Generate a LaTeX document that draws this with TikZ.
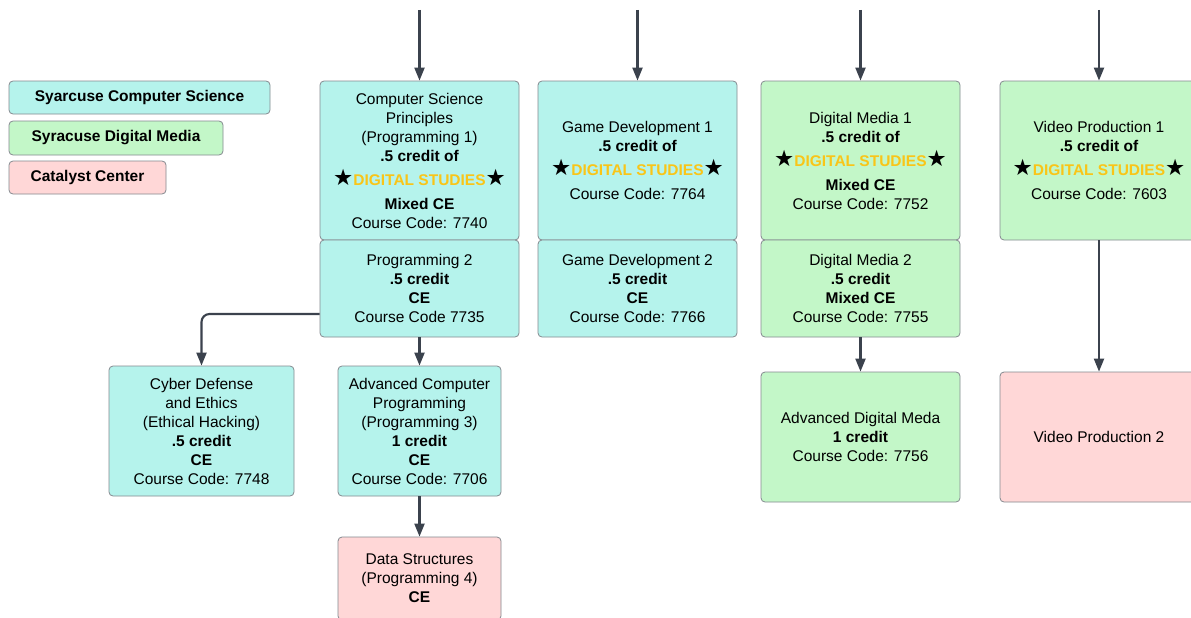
\documentclass[tikz,border=0pt]{standalone}
\usepackage{fontspec}
\setmainfont{Liberation Sans}
\newfontfamily\starfont{DejaVu Sans}
\usetikzlibrary{arrows.meta}
\definecolor{cscol}{HTML}{B5F3EC}
\definecolor{dmcol}{HTML}{C3F7C8}
\definecolor{cccol}{HTML}{FFD7D7}
\definecolor{dsy}{HTML}{F9C518}
\definecolor{bordcol}{HTML}{858A90}
\definecolor{arrcol}{HTML}{3B424D}
\newcommand{\mystar}{{\starfont\fontsize{22.5}{19}\selectfont ★}}
\newcommand{\dsline}{\mystar{\bfseries\color{dsy}DIGITAL STUDIES}\mystar}
\tikzset{
  basebox/.style={draw=bordcol, line width=0.8pt, rounded corners=4pt, align=center,
    font=\fontsize{15.5}{19}\selectfont, inner sep=0pt},
  csbox/.style={basebox, fill=cscol},
  dmbox/.style={basebox, fill=dmcol},
  ccbox/.style={basebox, fill=cccol},
  legbox/.style={basebox, font=\fontsize{15.5}{19}\selectfont\bfseries},
  arr/.style={draw=arrcol, line width=2.1pt, -{Triangle[length=13pt,width=10pt]}},
}
\begin{document}
\begin{tikzpicture}[x=1pt,y=-1pt]
\clip (0,0) rectangle (1191,618);
\fill[white] (0,0) rectangle (1191,618);
% legend
\node[legbox, fill=cscol, minimum width=261pt, minimum height=33pt] (l1) at (139.5,97.5) {Syarcuse Computer Science};
\node[legbox, fill=dmcol, minimum width=214pt, minimum height=34pt] (l2) at (116,138) {Syracuse Digital Media};
\node[legbox, fill=cccol, minimum width=157pt, minimum height=33pt] (l3) at (87.5,177.5) {Catalyst Center};
% top row
\node[csbox, minimum width=199pt, minimum height=159pt] (csp) at (419.5,160.5)
  {Computer Science\\Principles\\(Programming 1)\\\textbf{.5 credit of}\\[5pt]\dsline\\[5pt]\textbf{Mixed CE}\\Course Code: 7740};
\node[csbox, minimum width=199pt, minimum height=97pt] (p2) at (419.5,288.5)
  {Programming 2\\\textbf{.5 credit}\\\textbf{CE}\\Course Code 7735};
\node[csbox, minimum width=199pt, minimum height=159pt] (gd1) at (637.5,160.5)
  {Game Development 1\\\textbf{.5 credit of}\\[5pt]\dsline\\[5pt]Course Code: 7764};
\node[csbox, minimum width=199pt, minimum height=97pt] (gd2) at (637.5,288.5)
  {Game Development 2\\\textbf{.5 credit}\\\textbf{CE}\\Course Code: 7766};
\node[dmbox, minimum width=199pt, minimum height=159pt] (dm1) at (860.5,160.5)
  {Digital Media 1\\\textbf{.5 credit of}\\[5pt]\dsline\\[5pt]\textbf{Mixed CE}\\Course Code: 7752};
\node[dmbox, minimum width=199pt, minimum height=97pt] (dm2) at (860.5,288.5)
  {Digital Media 2\\\textbf{.5 credit}\\\textbf{Mixed CE}\\Course Code: 7755};
\node[dmbox, minimum width=198pt, minimum height=159pt] (vp1) at (1099,160.5)
  {Video Production 1\\\textbf{.5 credit of}\\[5pt]\dsline\\[5pt]Course Code: 7603};
% lower rows
\node[csbox, minimum width=185pt, minimum height=130pt] (cyb) at (201.5,431)
  {Cyber Defense\\and Ethics\\(Ethical Hacking)\\\textbf{.5 credit}\\\textbf{CE}\\Course Code: 7748};
\node[csbox, minimum width=163pt, minimum height=130pt] (acp) at (419.5,431)
  {Advanced Computer\\Programming\\(Programming 3)\\\textbf{1 credit}\\\textbf{CE}\\Course Code: 7706};
\node[ccbox, minimum width=163pt, minimum height=83pt] (dst) at (419.5,578.5)
  {Data Structures\\(Programming 4)\\\textbf{CE}};
\node[dmbox, minimum width=199pt, minimum height=130pt] (adm) at (860.5,437)
  {Advanced Digital Meda\\\textbf{1 credit}\\Course Code: 7756};
\node[ccbox, minimum width=198pt, minimum height=130pt] (vp2) at (1099,437)
  {Video Production 2};
% top entry coordinates
\coordinate (t1) at (419.5,10);
\coordinate (t2) at (637.5,10);
\coordinate (t3) at (860.5,10);
\coordinate (t4) at (1099,10);
\draw[arr] (t1) -- (csp.north);
\draw[arr] (t2) -- (gd1.north);
\draw[arr] (t3) -- (dm1.north);
\draw[arr] (t4) -- (vp1.north);
\draw[arr, rounded corners=8pt] ([yshift=-25.5pt]p2.west) -| (cyb.north);
\draw[arr] (p2.south) -- (acp.north);
\draw[arr] (acp.south) -- (dst.north);
\draw[arr] (dm2.south) -- (adm.north);
\draw[arr] (vp1.south) -- (vp2.north);
\end{tikzpicture}
\end{document}
